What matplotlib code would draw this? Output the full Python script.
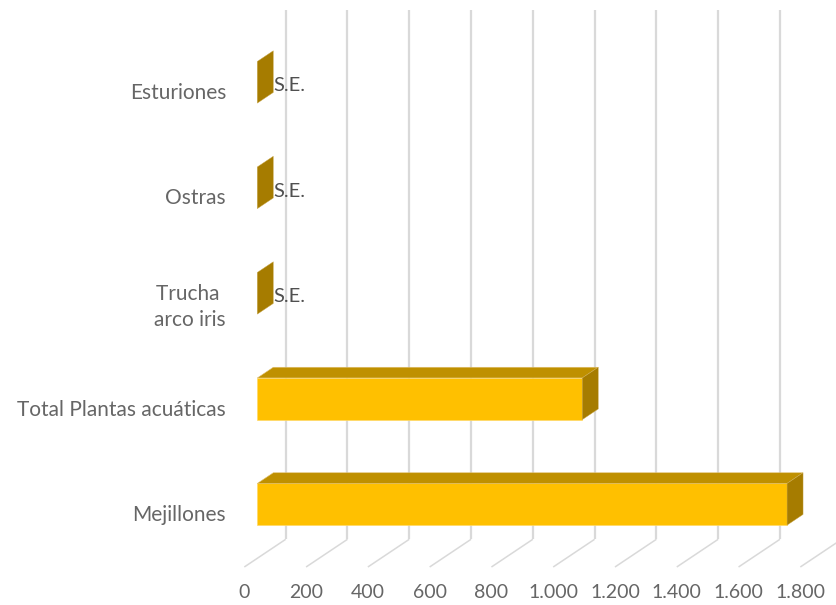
import matplotlib
matplotlib.use("Agg")
import matplotlib.pyplot as plt
from matplotlib.patches import Polygon

categories = ["Mejillones", "Total Plantas acuáticas", "Trucha \narco iris", "Ostras", "Esturiones"]
values = [1715, 1052, 0, 0, 0]
bar_labels = ["", "", "S.E.", "S.E.", "S.E."]
x_ticks = [0, 200, 400, 600, 800, 1000, 1200, 1400, 1600, 1800]
x_tick_labels = ["0", "200", "400", "600", "800", "1.000", "1.200", "1.400", "1.600", "1.800"]

W, H = 836, 605
PX_PER_UNIT = 0.3089
PX_PER_CAT = 105.5
DX = 41.4 / PX_PER_UNIT     # depth vector, in data units
DY = 27.7 / PX_PER_CAT
HALF = 20.85 / PX_PER_CAT
D0, D1 = 0.314, 0.70

FRONT, TOP, SIDE = "#FFC000", "#BF9000", "#A67C00"
GRID = "#D9D9D9"
TEXT = "#666666"

plt.rcParams["font.family"] = ["Lato", "DejaVu Sans"]
fig = plt.figure(figsize=(W / 100, H / 100), dpi=100, facecolor="white")
L, B = 232, 567
ax = fig.add_axes([L / W, (H - B) / H, (W - L) / W, B / H])
ax.set_xlim((L - 244.3) / PX_PER_UNIT, (W - 244.3) / PX_PER_UNIT)
floor = (513 - B) / PX_PER_CAT
ax.set_ylim(floor, 513 / PX_PER_CAT)
top_wall = (513 - 10) / PX_PER_CAT
for s in ax.spines.values():
    s.set_visible(False)
ax.patch.set_alpha(0)


def pt(v, y, d):
    return (v + d * DX, y + d * DY)


# walls
for v in x_ticks:
    a, b, c = pt(v, floor, 0), pt(v, floor, 1), (v + DX, top_wall)
    ax.plot([a[0], b[0]], [a[1], b[1]], color=GRID, lw=1.1, clip_on=False, zorder=1, solid_capstyle="butt")
    ax.plot([b[0], c[0]], [b[1], c[1]], color=GRID, lw=1.6, clip_on=False, zorder=1, solid_capstyle="butt")

# bars
for i, (val, lab) in enumerate(zip(values, bar_labels)):
    lo, hi = i - HALF, i + HALF
    if val > 0:
        ax.add_patch(Polygon([pt(0, lo, D0), pt(val, lo, D0), pt(val, hi, D0), pt(0, hi, D0)],
                             fc=FRONT, ec="#FFD966", lw=0.5, zorder=3, clip_on=False))
        ax.add_patch(Polygon([pt(0, hi, D0), pt(val, hi, D0), pt(val, hi, D1), pt(0, hi, D1)],
                             fc=TOP, ec="#E0C070", lw=0.4, zorder=3, clip_on=False))
    ax.add_patch(Polygon([pt(val, lo, D0), pt(val, lo, D1), pt(val, hi, D1), pt(val, hi, D0)],
                         fc=SIDE, ec="#C9A64A", lw=0.3, zorder=3, clip_on=False))
    if lab:
        p = pt(val, i, D1)
        ax.annotate(lab, p, xytext=(0, -10.3), textcoords="offset points", ha="left", va="center",
                    fontsize=14.5, color="#505050", zorder=4)

ax.set_xticks(x_ticks, x_tick_labels)
ax.set_yticks(range(len(categories)), categories)
ax.tick_params(axis="x", length=0, pad=12.5, labelsize=14, labelcolor=TEXT)
ax.tick_params(axis="y", length=0, pad=4.3, labelsize=15, labelcolor=TEXT)
for t in ax.get_yticklabels():
    t.set_multialignment("center")
    t.set_linespacing(1.35)
for t in ax.get_xticklabels():
    t.set_x(t.get_position()[0])

fig.savefig("out.png", dpi=100, facecolor="white")
